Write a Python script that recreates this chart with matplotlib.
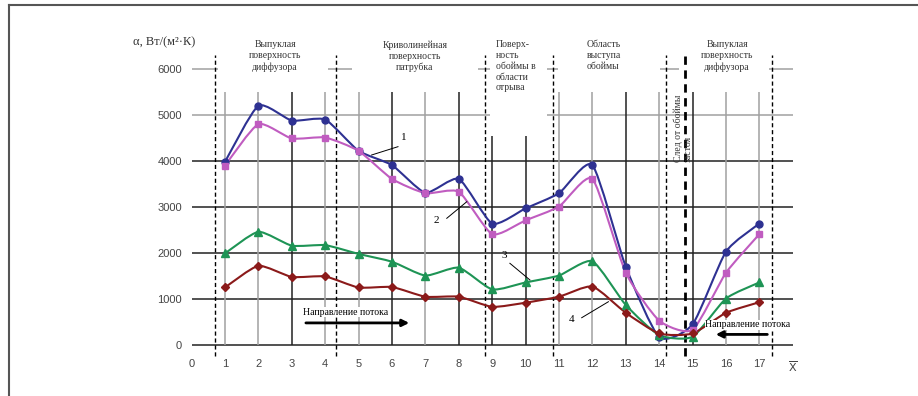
import matplotlib
matplotlib.use("Agg")
import matplotlib.pyplot as plt
from matplotlib.path import Path
from matplotlib.patches import PathPatch, Rectangle
from matplotlib.lines import Line2D
import numpy as np

# ---- data ----
x_pos = list(range(1, 18))
series_1 = [3980, 5200, 4880, 4900, 4220, 3910, 3310, 3610, 2640, 2970, 3300, 3910, 1700, 170, 450, 2030, 2640]
series_2 = [3900, 4800, 4490, 4510, 4220, 3610, 3300, 3330, 2410, 2710, 3010, 3610, 1570, 530, 330, 1570, 2410]
series_3 = [1990, 2460, 2160, 2170, 1980, 1810, 1510, 1680, 1210, 1360, 1510, 1820, 870, 215, 180, 1010, 1360]
series_4 = [1250, 1720, 1480, 1490, 1250, 1260, 1050, 1050, 830, 920, 1050, 1270, 700, 250, 250, 700, 930]
x_ticks = list(range(0, 19))
x_tick_labels = [str(i) for i in range(0, 18)] + [r"$\overline{\mathrm{X}}$"]
y_ticks = [0, 1000, 2000, 3000, 4000, 5000, 6000]
region_bounds = [0.7, 4.32, 8.78, 10.83, 14.2, 14.77, 17.37]
curve_labels = ["1", "2", "3", "4"]

SERIF = ["Liberation Serif", "DejaVu Serif"]
SANS = ["Liberation Sans", "DejaVu Sans"]

fig = plt.figure(figsize=(9.18, 3.96), dpi=100)
ax = fig.add_axes([0.2014, 0.09975, 0.6695, 0.8306])
ax.set_xlim(-0.2, 18.2)
ax.set_ylim(-250, 6900)
for s in ax.spines.values():
    s.set_visible(False)
ax.set_xticks(x_ticks)
ax.set_xticklabels(x_tick_labels, fontfamily=SANS, fontsize=8, color="#444444")
ax.set_yticks(y_ticks)
ax.set_yticklabels([str(v) for v in y_ticks], fontfamily=SANS, fontsize=8, color="#444444")
ax.tick_params(length=0, pad=2)

# grid
dark, light = "#222222", "#a0a0a0"
for yv in y_ticks:
    c = light if yv >= 5000 else dark
    ax.hlines(yv, 0, 18, color=c, lw=1.1, zorder=1)
dark_x = {3, 6, 8, 9, 10, 13, 15}
for xv in x_pos:
    ax.vlines(xv, 0, 5500, color=dark if xv in dark_x else light, lw=1.1, zorder=1)

# white label backgrounds
for (x0, x1, y0) in [(0.8, 4.09, 5650), (4.8, 8.58, 5650), (8.93, 10.64, 4550),
                     (10.97, 14.02, 5650), (14.6, 17.3, 5650)]:
    ax.add_patch(Rectangle((x0, y0), x1 - x0, 6750 - y0, facecolor="white",
                           edgecolor="none", zorder=2))

# region boundaries
for b in region_bounds:
    ax.vlines(b, -240, 6300, color="black", lw=2.0 if b == 14.77 else 1.0,
              linestyles=(0, (3, 2)), zorder=3, clip_on=False)


def smooth_path(xs, ys, t=0.6):
    P = np.column_stack([xs, ys]).astype(float)
    n = len(P)
    verts = [P[0]]
    codes = [Path.MOVETO]
    for i in range(n - 1):
        p0 = P[i - 1] if i > 0 else P[i]
        p1 = P[i]
        p2 = P[i + 1]
        p3 = P[i + 2] if i + 2 < n else P[i + 1]
        c1 = p1 + (p2 - p0) / 6.0 * t
        c2 = p2 - (p3 - p1) / 6.0 * t
        verts += [c1, c2, p2]
        codes += [Path.CURVE4] * 3
    return Path(verts, codes)


styles = [
    (series_1, "#2E3192", "o", 5),
    (series_2, "#C05CC0", "s", 4.5),
    (series_3, "#1E9455", "^", 5.5),
    (series_4, "#8B1A1A", "D", 4.5),
]
for ys, col, mk, ms in styles:
    ax.add_patch(PathPatch(smooth_path(x_pos, ys), facecolor="none", edgecolor=col,
                           lw=1.5, zorder=5))
    ax.plot(x_pos, ys, linestyle="none", marker=mk, color=col, markersize=ms, zorder=6)

# curve labels with leaders
label_specs = [
    ((6.36, 4507), (6.18, 4311), (5.39, 4130)),
    ((7.32, 2702), (7.64, 2754), (8.24, 3115)),
    ((9.35, 1941), (9.53, 1776), (10.13, 1413)),
    ((11.38, 565), (11.68, 593), (12.48, 941)),
]
for lab, (tp, a, b) in zip(curve_labels, label_specs):
    ax.text(tp[0], tp[1], lab, fontfamily=SERIF, fontsize=8, ha="center", va="center",
            zorder=7)
    ax.plot([a[0], b[0]], [a[1], b[1]], color="black", lw=0.7, zorder=7)

# region labels
lab_kw = dict(fontfamily=SERIF, fontsize=7, color="#333333", va="top",
              linespacing=1.25, zorder=4)
ax.text(2.5, 6620, "Выпуклая\nповерхность\nдиффузора", ha="center", multialignment="center", **lab_kw)
ax.text(6.69, 6620, "Криволинейная\nповерхность\nпатрубка", ha="center", multialignment="center", **lab_kw)
ax.text(9.1, 6620, "Поверх-\nность\nобоймы в\nобласти\nотрыва", ha="left", multialignment="left", **lab_kw)
ax.text(11.84, 6620, "Область\nвыступа\nобоймы", ha="left", multialignment="left", **lab_kw)
ax.text(16.03, 6620, "Выпуклая\nповерхность\nдиффузора", ha="center", multialignment="center", **lab_kw)
ax.text(14.72, 3980, "След от обоймы\nзастоя", rotation=90, ha="center", va="bottom",
        multialignment="left", fontfamily=SERIF, fontsize=7, color="#333333",
        linespacing=1.1, zorder=4)

# axis label
ax.text(-1.75, 6590, "α, Вт/(м²·К)", fontfamily=SERIF, fontsize=9, color="#333333",
        ha="left", va="center", clip_on=False)

# flow direction
ax.text(4.6, 717, "Направление потока", fontfamily=SERIF, fontsize=7, ha="center",
        va="center", zorder=7, bbox=dict(facecolor="white", edgecolor="none", pad=0.5))
ax.annotate("", xy=(6.6, 480), xytext=(3.34, 480),
            arrowprops=dict(arrowstyle="-|>", color="black", lw=2.0, mutation_scale=10),
            zorder=7)
ax.text(16.66, 435, "Направление потока", fontfamily=SERIF, fontsize=7, ha="center",
        va="center", zorder=7, bbox=dict(facecolor="white", edgecolor="none", pad=0.5))
ax.annotate("", xy=(15.61, 230), xytext=(17.32, 230),
            arrowprops=dict(arrowstyle="-|>", color="black", lw=2.0, mutation_scale=10),
            zorder=7)

# outer frame (top and left)
fy = 1 - 5 / 396
fx = 9 / 918
fig.add_artist(Line2D([fx, 1], [fy, fy], transform=fig.transFigure, color="#555555", lw=1.5))
fig.add_artist(Line2D([fx, fx], [0, fy], transform=fig.transFigure, color="#555555", lw=1.5))

fig.savefig("out.png", dpi=100)
